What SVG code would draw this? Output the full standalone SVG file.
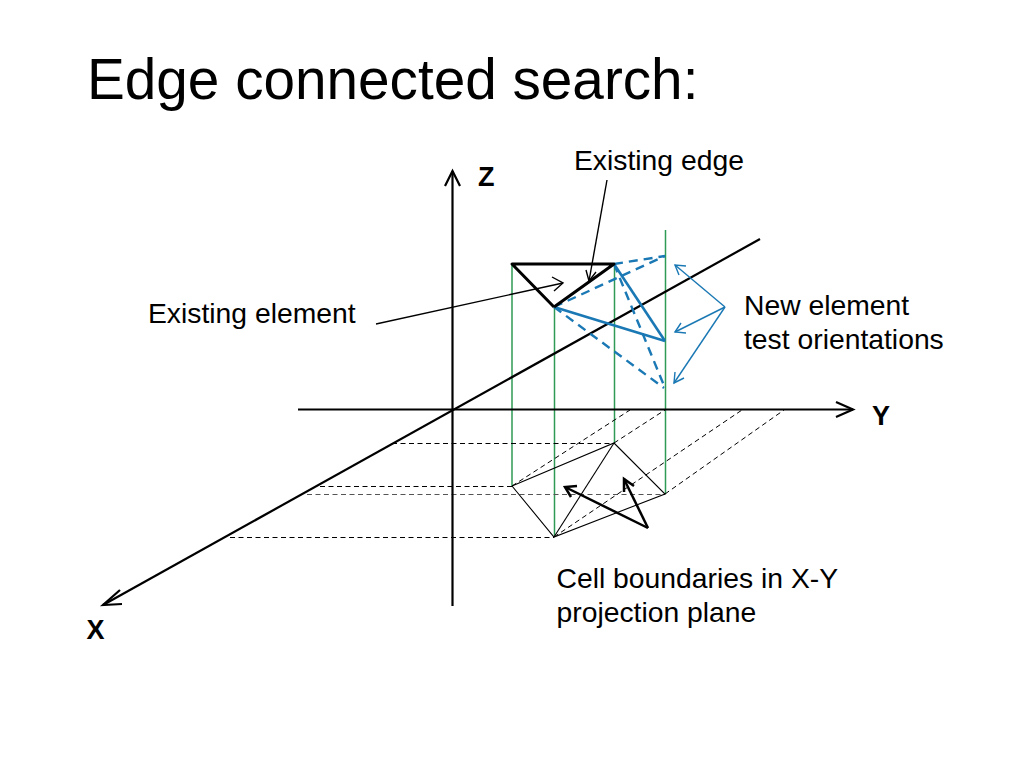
<svg xmlns="http://www.w3.org/2000/svg" width="1024" height="768" viewBox="0 0 1024 768">
<style>
text{font-family:"Liberation Sans",Arial,sans-serif;fill:#000}
.l{font-size:28.3px}
.b{font-size:27px;font-weight:bold}
line,polyline{fill:none}
.ax{stroke:#000;stroke-width:2.2}
.el{stroke:#000;stroke-width:3;stroke-linejoin:round}
.th{stroke:#000;stroke-width:1.4}
.lb{stroke:#000;stroke-width:1.1}
.g{stroke:#2e9a56;stroke-width:1.5}
.d{stroke:#000;stroke-width:1;stroke-dasharray:5 3.5}
.dg{stroke:#555;stroke-width:1.2;stroke-dasharray:5 3.5}
.bl{stroke:#1a78b4;stroke-width:2.6}
.bd{stroke:#1a78b4;stroke-width:2.4;stroke-dasharray:9 6}
.ba{stroke:#1a78b4;stroke-width:1.4}
.ka{stroke:#000;stroke-width:2.5}
</style>
<rect width="1024" height="768" fill="#fff"/>
<g id="title"><text x="87" y="99" font-size="56.7">Edge connected search:</text></g>
<g id="connectors">
<g id="projection-lines">
<line class="g" x1="512" y1="264" x2="512" y2="486"/>
<line class="g" x1="554.5" y1="307" x2="554.5" y2="537"/>
<line class="g" x1="614.5" y1="264" x2="614.5" y2="443"/>
<line class="g" x1="665.5" y1="230" x2="665.5" y2="494"/>
<line class="d" x1="392" y1="443.5" x2="614" y2="443.5"/>
<line class="d" x1="320" y1="486.5" x2="512" y2="486.5"/>
<line class="dg" x1="307" y1="494.5" x2="665" y2="494.5"/>
<line class="d" x1="230" y1="537.5" x2="554" y2="537.5"/>
<line class="d" x1="512" y1="486" x2="630" y2="410"/>
<line class="d" x1="614" y1="443" x2="665" y2="410"/>
<line class="d" x1="554" y1="537" x2="742" y2="410"/>
<line class="d" x1="665" y1="494" x2="784" y2="410"/>
</g>
<g id="axes">
<line class="ax" x1="452.5" y1="606" x2="452.5" y2="171"/>
<polyline class="ax" points="445,186 452.5,171 460,186"/>
<line class="ax" x1="298" y1="409.5" x2="853" y2="409.5"/>
<polyline class="ax" points="836,402 853,409.5 836,417"/>
<line class="ax" x1="760" y1="239" x2="103" y2="605"/>
<polyline class="ax" points="120,590 103,605 122,604"/>
</g>
<g id="dashed-orientations">
<line class="bd" x1="614" y1="264" x2="665" y2="256"/>
<line class="bd" x1="554" y1="307" x2="665" y2="256"/>
<line class="bd" x1="614" y1="264" x2="665" y2="388"/>
<line class="bd" x1="554" y1="307" x2="664" y2="388"/>
</g>
<g id="solid-orientation">
<line class="bl" x1="614" y1="264" x2="665" y2="341"/>
<line class="bl" x1="554" y1="307" x2="665" y2="341"/>
</g>
<g id="existing-element-edges">
<polyline class="el" points="554,307 512,264 614,264 554,307"/>
</g>
<g id="projection-cell">
<polyline class="lb" points="512,486 614,443 665,494 554,537 512,486"/>
<line class="lb" x1="554" y1="537" x2="614" y2="443"/>
</g>
<g id="leader-arrows">
<line class="th" x1="607" y1="180" x2="589" y2="281"/>
<polyline class="th" points="586,270 589,281 596,272"/>
<line class="th" x1="376" y1="324" x2="563" y2="283"/>
<polyline class="th" points="552,277 563,283 554,291"/>
<line class="ba" x1="725" y1="307" x2="675" y2="265"/>
<polyline class="ba" points="686,266 675,265 679,275"/>
<line class="ba" x1="725" y1="307" x2="675" y2="332"/>
<polyline class="ba" points="681,323 675,332 686,333"/>
<line class="ba" x1="725" y1="307" x2="674" y2="383"/>
<polyline class="ba" points="675,372 674,383 684,378"/>
<line class="ka" x1="648" y1="528" x2="565" y2="487"/>
<polyline class="ka" points="577,486 565,487 571,497"/>
<line class="ka" x1="648" y1="528" x2="624" y2="479"/>
<polyline class="ka" points="624,492 624,479 634,486"/>
</g>
</g>
<g id="label-z"><text class="b" x="478" y="186">Z</text></g>
<g id="label-y"><text class="b" x="872" y="425">Y</text></g>
<g id="label-x"><text class="b" x="86.5" y="639">X</text></g>
<g id="label-existing-edge"><text class="l" x="574" y="169.5">Existing edge</text></g>
<g id="label-existing-element"><text class="l" x="148" y="322.5">Existing element</text></g>
<g id="label-new-element"><text class="l" x="744" y="314.5">New element</text><text class="l" x="744" y="348.5">test orientations</text></g>
<g id="label-cell"><text class="l" x="556.5" y="587.5">Cell boundaries in X-Y</text><text class="l" x="556.5" y="621.5">projection plane</text></g>
</svg>
